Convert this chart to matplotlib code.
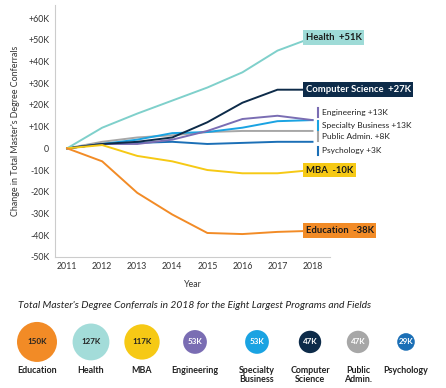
import numpy as np
import matplotlib
matplotlib.use("Agg")
import matplotlib.pyplot as plt

plt.rcParams['font.family'] = ['Lato', 'DejaVu Sans']

years = [2011, 2012, 2013, 2014, 2015, 2016, 2017, 2018]

# change vs 2011, in thousands
health = [0, 9.5, 16, 22, 28, 35, 45, 51]
comp_sci = [0, 2, 3, 5, 12, 21, 27, 27]
engineering = [0, 2, 2, 4, 8, 13.5, 15, 13]
spec_business = [0, 2, 4, 7, 7.5, 9.5, 12.5, 13]
public_admin = [0, 3, 5, 6, 7.5, 8, 8, 8]
psychology = [0, 2, 2.5, 3, 2, 2.5, 3, 3]
mba = [0, 1.5, -3.5, -6, -10, -11.5, -11.5, -10]
education = [0, -6, -20.5, -30.5, -39, -39.5, -38.5, -38]

yticks = [-50, -40, -30, -20, -10, 0, 10, 20, 30, 40, 50, 60]
ytick_labels = ['-50K', '-40K', '-30K', '-20K', '-10K', '0',
                '+10K', '+20K', '+30K', '+40K', '+50K', '+60K']

# 2018 totals
bubble_names = ['Education', 'Health', 'MBA', 'Engineering', 'Specialty\nBusiness',
                'Computer\nScience', 'Public\nAdmin.', 'Psychology']
bubble_vals = [150, 127, 117, 53, 53, 47, 47, 29]

c_health = '#7fd0cb'
c_cs = '#0d2b49'
c_eng = '#7a6db3'
c_spec = '#1aa3e2'
c_pub = '#a7a7a7'
c_psy = '#1b6fb6'
c_mba = '#f6c915'
c_edu = '#f28b26'
bubble_colors = [c_edu, '#a3dcd9', c_mba, c_eng, c_spec, c_cs, c_pub, c_psy]
bubble_text = ['#222222', '#222222', '#222222', 'white', 'white', 'white', 'white', 'white']

fig = plt.figure(figsize=(4.46, 3.88), dpi=100)
ax = fig.add_axes([0.123, 0.338, 0.617, 0.649])

ax.plot(years, public_admin, color=c_pub, lw=1.4)
ax.plot(years, psychology, color=c_psy, lw=1.4)
ax.plot(years, spec_business, color=c_spec, lw=1.4)
ax.plot(years, engineering, color=c_eng, lw=1.4)
ax.plot(years, comp_sci, color=c_cs, lw=1.4)
ax.plot(years, health, color=c_health, lw=1.4)
ax.plot(years, mba, color=c_mba, lw=1.4)
ax.plot(years, education, color=c_edu, lw=1.4)

ax.set_xlim(2010.65, 2018.5)
ax.set_ylim(-50, 66)
ax.set_xticks(years)
ax.set_yticks(yticks)
ax.set_yticklabels(ytick_labels)
ax.tick_params(length=0, labelsize=6.3, colors='#333333', pad=4)
for s in ['top', 'right']:
    ax.spines[s].set_visible(False)
for s in ['left', 'bottom']:
    ax.spines[s].set_color('#cccccc')
    ax.spines[s].set_linewidth(0.8)
ax.set_ylabel("Change in Total Master's Degree Conferrals", fontsize=6.4, color='#333333', labelpad=6)
ax.set_xlabel('Year', fontsize=6.4, color='#333333', labelpad=6)

# big end labels
lx = 2017.8
ax.text(lx, health[-1], 'Health  +51K', fontsize=6.8, fontweight='bold', color='#1a1a1a',
        va='center', ha='left', clip_on=False,
        bbox=dict(boxstyle='square,pad=0.3', fc='#9edbd7', ec='none'))
ax.text(lx, comp_sci[-1], 'Computer Science  +27K', fontsize=6.8, fontweight='bold', color='white',
        va='center', ha='left', clip_on=False,
        bbox=dict(boxstyle='square,pad=0.3', fc=c_cs, ec='none'))
ax.text(lx, mba[-1], 'MBA  -10K', fontsize=6.8, fontweight='bold', color='#1a1a1a',
        va='center', ha='left', clip_on=False,
        bbox=dict(boxstyle='square,pad=0.3', fc=c_mba, ec='none'))
ax.text(lx, education[-1], 'Education  -38K', fontsize=6.8, fontweight='bold', color='#1a1a1a',
        va='center', ha='left', clip_on=False,
        bbox=dict(boxstyle='square,pad=0.3', fc=c_edu, ec='none'))

# small labels with a colored tick
small = [('Engineering +13K', c_eng, 16.5), ('Specialty Business +13K', c_spec, 10.5),
         ('Public Admin. +8K', c_pub, 5.3), ('Psychology +3K', c_psy, -1.2)]
for txt, col, yv in small:
    ax.plot([2018.17, 2018.17], [yv - 2, yv + 2], color=col, lw=1.5, clip_on=False)
    ax.text(2018.27, yv, txt, fontsize=6, color='#222222', va='center', ha='left', clip_on=False)

fig.text(0.04, 0.213, "Total Master's Degree Conferrals in 2018 for the Eight Largest Programs and Fields",
         fontsize=7.4, style='italic', color='#222222', va='center', ha='left')

# bubbles, area proportional to totals
bx = fig.add_axes([0, 0, 1, 0.24])
bx.set_xlim(0, 446)
bx.set_ylim(0, 93)
bx.axis('off')
pos = [37, 91, 142, 195, 257, 310, 358, 406]
for i, v in enumerate(bubble_vals):
    bx.scatter(pos[i], 46, s=(40 * 0.72) ** 2 * v / 150, color=bubble_colors[i], edgecolors='none')
    bx.text(pos[i], 46, f'{v}K', fontsize=5.8, fontweight='bold', color=bubble_text[i],
            ha='center', va='center')
    bx.text(pos[i], 22, bubble_names[i], fontsize=6.4, fontweight='bold', color='#222222',
            ha='center', va='top', linespacing=1.05)

fig.savefig('out.png', dpi=100)
